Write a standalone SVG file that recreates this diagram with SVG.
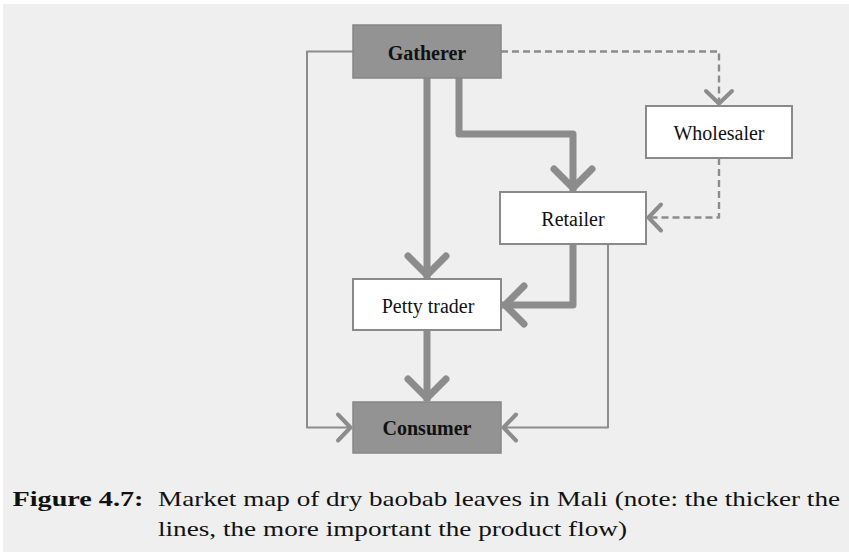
<svg xmlns="http://www.w3.org/2000/svg" width="849" height="552" viewBox="0 0 849 552">
  <style>
    .node-dark { fill: #939393; stroke: #878787; stroke-width: 1.5; }
    .node-light { fill: #ffffff; stroke: #8a8a8a; stroke-width: 2; }
    .label { font-family: "Liberation Serif", "Times New Roman", serif; font-size: 20px; fill: #111111; text-anchor: middle; }
    .bold { font-weight: bold; }
    .flow { fill: none; stroke: #8c8c8c; stroke-linejoin: round; }
    .thick { stroke-width: 7; }
    .thin { stroke-width: 2; }
    .dashed { stroke-width: 2.4; stroke-dasharray: 7 4; }
    .chev { fill: none; stroke: #8c8c8c; stroke-linecap: round; stroke-linejoin: round; }
    .caption { font-family: "Liberation Serif", "Times New Roman", serif; font-size: 22px; fill: #111111; }
  </style>
  <defs>
    <!-- open chevron heads; the large one goes on thick flows, the small one on thin/dashed -->
    <marker id="head-thick" markerUnits="userSpaceOnUse" viewBox="-30 -30 40 60" refX="0" refY="0" markerWidth="40" markerHeight="60" orient="auto" overflow="visible">
      <path class="chev" stroke-width="7" d="M-22,-19 L-3,0 L-22,19"/>
    </marker>
    <marker id="head-thin" markerUnits="userSpaceOnUse" viewBox="-20 -20 30 40" refX="0" refY="0" markerWidth="30" markerHeight="40" orient="auto" overflow="visible">
      <path class="chev" stroke-width="4" d="M-14,-13 L-1.5,0 L-14,13"/>
    </marker>
  </defs>

  <rect x="0" y="0" width="849" height="552" fill="#ffffff"/>
  <rect x="3" y="4" width="846" height="548" fill="#efefef"/>

  <g id="connectors">
    <!-- Gatherer -> Consumer (thin, around the left) -->
    <path class="flow thin" d="M353,51.5 H307 V427.5 H352" marker-end="url(#head-thin)"/>
    <!-- Gatherer -> Wholesaler (dashed) -->
    <path class="flow dashed" d="M501,51.5 H719 V105" marker-end="url(#head-thin)"/>
    <!-- Wholesaler -> Retailer (dashed) -->
    <path class="flow dashed" d="M719,158 V217.5 H647" marker-end="url(#head-thin)"/>
    <!-- Retailer -> Consumer (thin, around the right) -->
    <path class="flow thin" d="M608,244 V427.5 H502" marker-end="url(#head-thin)"/>
    <!-- Gatherer -> Petty trader (thick) -->
    <path class="flow thick" d="M427,78 V278" marker-end="url(#head-thick)"/>
    <!-- Gatherer -> Retailer (thick) -->
    <path class="flow thick" d="M459,78 V134 H573 V191" marker-end="url(#head-thick)"/>
    <!-- Retailer -> Petty trader (thick) -->
    <path class="flow thick" d="M573,244 V305 H502" marker-end="url(#head-thick)"/>
    <!-- Petty trader -> Consumer (thick) -->
    <path class="flow thick" d="M427,330 V401" marker-end="url(#head-thick)"/>
  </g>

  <g id="gatherer">
    <rect class="node-dark" x="353" y="25" width="148" height="53"/>
    <text class="label bold" x="427" y="60">Gatherer</text>
  </g>
  <g id="wholesaler">
    <rect class="node-light" x="646" y="106" width="146" height="52"/>
    <text class="label" x="719" y="139.5">Wholesaler</text>
  </g>
  <g id="retailer">
    <rect class="node-light" x="500" y="192" width="146" height="52"/>
    <text class="label" x="573" y="226">Retailer</text>
  </g>
  <g id="petty-trader">
    <rect class="node-light" x="353" y="279" width="148" height="51"/>
    <text class="label" x="428" y="312.5">Petty trader</text>
  </g>
  <g id="consumer">
    <rect class="node-dark" x="353" y="402" width="148" height="51"/>
    <text class="label bold" x="427" y="435">Consumer</text>
  </g>

  <g id="caption">
    <text class="caption bold" x="12.5" y="505.5" textLength="131" lengthAdjust="spacingAndGlyphs">Figure 4.7:</text>
    <text class="caption" x="158" y="505.5" textLength="682" lengthAdjust="spacingAndGlyphs">Market map of dry baobab leaves in Mali (note: the thicker the</text>
    <text class="caption" x="158" y="535.5" textLength="469" lengthAdjust="spacingAndGlyphs">lines, the more important the product flow)</text>
  </g>
</svg>
